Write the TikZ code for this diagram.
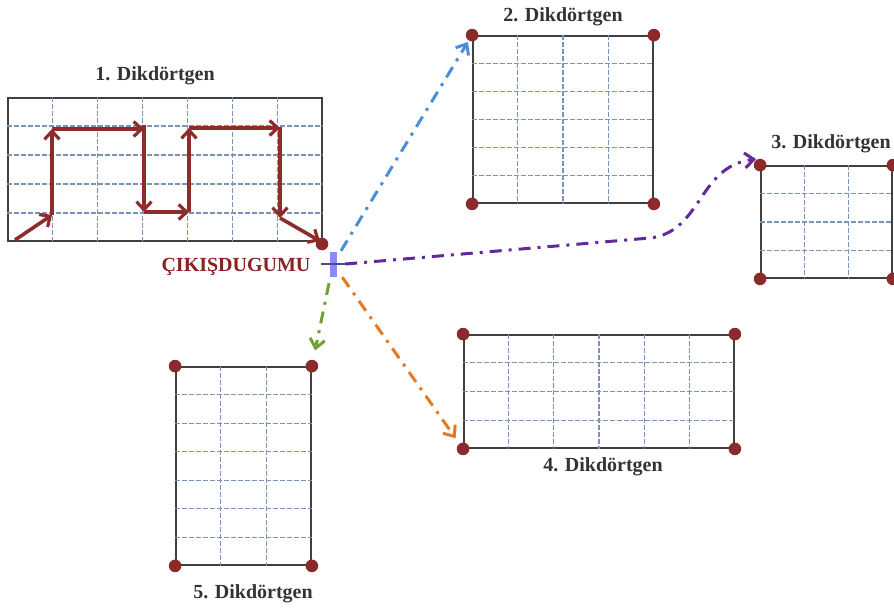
\documentclass[tikz,border=0pt]{standalone}
\usepackage{fontspec}
\setmainfont{Liberation Serif}
\usetikzlibrary{arrows.meta,calc}
\definecolor{bordc}{HTML}{404040}
\definecolor{gridc}{HTML}{7B93B5}
\definecolor{dotc}{HTML}{8B2A2A}
\definecolor{pathc}{HTML}{8E2B2B}
\definecolor{lblc}{HTML}{8B2020}
\definecolor{titc}{HTML}{333333}
\definecolor{bluec}{HTML}{4A8FD6}
\definecolor{purpc}{HTML}{64289A}
\definecolor{orc}{HTML}{E57A20}
\definecolor{grc}{HTML}{74A030}
\definecolor{exitc}{HTML}{8A8AF5}
\newcommand\mygrid[3]{%
  \pgfmathtruncatemacro\mycolsm{#2-1}%
  \pgfmathtruncatemacro\myrowsm{#3-1}%
  \foreach \i in {1,...,\mycolsm}
    \draw[gridln] ($(#1.north west)!\i/#2!(#1.north east)$) -- ($(#1.south west)!\i/#2!(#1.south east)$);
  \foreach \j in {1,...,\myrowsm}
    \draw[gridln] ($(#1.north west)!\j/#3!(#1.south west)$) -- ($(#1.north east)!\j/#3!(#1.south east)$);
}
\newcommand\mydots[1]{%
  \foreach \a in {north west,north east,south west,south east}
    \fill[dotc] (#1.\a) circle (6.3pt);
}
\begin{document}
\begin{tikzpicture}[x=1pt,y=-1pt,
  rectbox/.style={draw=bordc,line width=1.8pt,inner sep=0pt,fill=none},
  gridln/.style={draw=gridc,line width=1.2pt,dash pattern=on 4.5pt off 2.5pt},
  title/.style={text=titc,font=\fontsize{20}{24}\selectfont\bfseries,inner sep=0pt},
  exitlbl/.style={text=lblc,font=\fontsize{20}{24}\selectfont\bfseries,inner sep=0pt},
  walk/.style={draw=pathc,line width=3.6pt,-{Straight Barb[length=8pt,width=15pt,line width=3.2pt]}},
  conn/.style={line width=3pt,dash pattern=on 12pt off 7pt on 3pt off 7pt,-{Straight Barb[length=9pt,width=15pt]}},
  exitmark/.style={minimum width=24pt,minimum height=26pt,inner sep=0pt}]
\useasboundingbox (0,0) rectangle (894,610);

% rectangles
\node[rectbox,minimum width=314pt,minimum height=143pt] (r1) at (165,169.5) {};
\node[rectbox,minimum width=180pt,minimum height=167pt] (r2) at (563,119.5) {};
\node[rectbox,minimum width=131pt,minimum height=112pt] (r3) at (826.5,222) {};
\node[rectbox,minimum width=270pt,minimum height=113pt] (r4) at (599,391.5) {};
\node[rectbox,minimum width=135pt,minimum height=198pt] (r5) at (243.5,466) {};

\mygrid{r1}{7}{5}
\mygrid{r2}{4}{6}
\mygrid{r3}{3}{4}
\mygrid{r4}{6}{4}
\mygrid{r5}{3}{7}

\mydots{r2}
\mydots{r3}
\mydots{r4}
\mydots{r5}

% titles
\node[title] (t1) at (155,76) {1. Dikdörtgen};
\node[title] (t2) at (563,17) {2. Dikdörtgen};
\node[title] (t3) at (831,144) {3. Dikdörtgen};
\node[title] (t4) at (603,467) {4. Dikdörtgen};
\node[title] (t5) at (253,594) {5. Dikdörtgen};

% walk in rectangle 1
\coordinate (p0) at (15,240);
\coordinate (p1) at (52,215);
\coordinate (p2) at (52,129);
\coordinate (p3) at (144,129);
\coordinate (p4) at (144,212);
\coordinate (p5) at (189,212);
\coordinate (p6) at (189,128);
\coordinate (p7) at (280,128);
\coordinate (p8) at (280,218);
\coordinate (p9) at (320,241);
\draw[walk] (p0) -- (p1);
\draw[walk] (p1) -- (p2);
\draw[walk] (p2) -- (p3);
\draw[walk] ($(p3)+(0,-4)$) -- (p4);
\draw[walk] (p4) -- (p5);
\draw[walk] (p5) -- (p6);
\draw[walk] (p6) -- (p7);
\draw[walk] ($(p7)+(0,-1)$) -- (p8);
\draw[walk] (p8) -- (p9);
\fill[dotc] (322,244) circle (6.3pt);

% exit node
\node[exitlbl] (exitlabel) at (236,267) {ÇIKIŞDUGUMU};
\node[exitmark] (exit) at (333,264) {};
\fill[exitc] ($(exit.center)+(-3.5,-12)$) rectangle ($(exit.center)+(3.5,13)$);
\draw[line width=1.8pt,draw=exitc!55!black] ($(exit.center)+(-12,0)$) -- ($(exit.center)+(12,0)$);

% connectors
\coordinate (pm) at (650,238);
\draw[conn,draw=bluec,shorten >=8pt] (exit) -- (r2.north west);
\draw[conn,draw=purpc] (exit.east) -- (pm) .. controls (702,232) and (698,166) .. ($(r3.north west)+(-4,-6)$);
\draw[conn,draw=orc,shorten >=13pt] (exit) -- (r4.south west);
\draw[conn,draw=grc,shorten >=16pt] ($(exit.south)+(-4,6)$) -- (r5.north east);
\end{tikzpicture}
\end{document}
